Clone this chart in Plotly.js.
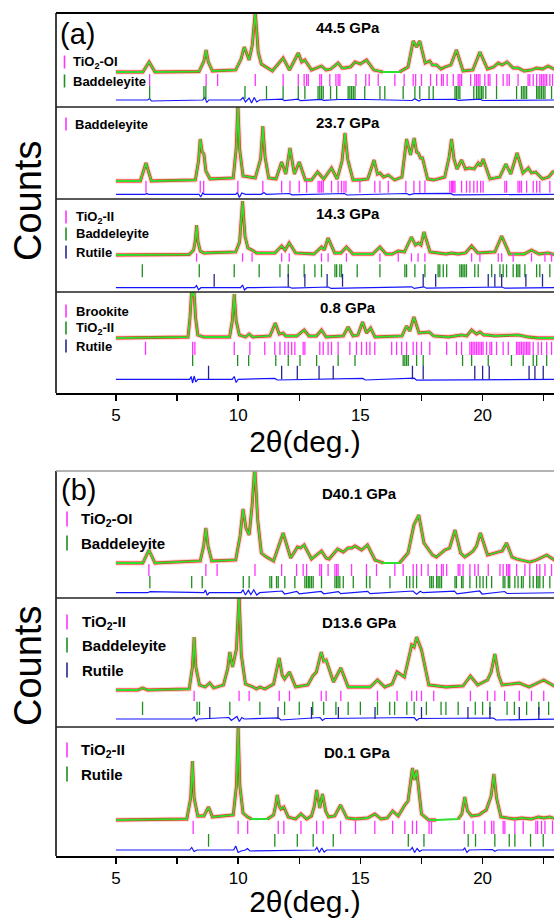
<!DOCTYPE html>
<html><head><meta charset="utf-8">
<script src="https://cdn.plot.ly/plotly-3.0.1.min.js"></script>
<style>html,body{margin:0;padding:0;background:#fff}#chart{width:554px;height:918px}</style>
</head><body><div id="chart"></div>
<script>
// ---------- DATA (2θ in degrees, counts in arbitrary units) ----------
// profiles: [2θ, counts]
// (a) 44.5 GPa
const A1_prof = [[5.0,35],[6.1,35],[6.36,45],[6.6,35],[8.4,35.5],[8.6,46],[8.69,57],[8.78,45],[8.95,36],[9.9,37],[10.12,48],[10.25,60],[10.45,47],[10.58,62],[10.70,96],[10.82,55],[10.95,43],[11.16,40],[11.4,36],[11.84,49],[12.1,37],[12.46,54],[12.6,45],[12.73,47],[13.0,37],[13.41,41],[13.6,37],[13.79,38],[14.09,44],[14.25,39],[14.37,39],[14.6,40],[14.78,45],[15.0,43],[15.25,47],[15.55,37],[15.93,35],[16.6,35],[16.95,40],[17.16,66],[17.3,60],[17.43,66],[17.65,44],[17.84,46],[17.95,42],[18.11,42],[18.3,38],[18.46,40],[18.7,42],[18.93,57],[19.2,36],[19.6,37],[19.89,55],[20.2,38],[20.45,40],[20.64,44],[20.8,42],[21.0,45],[21.25,39],[21.46,39],[21.7,36],[22.0,37],[22.2,39],[22.45,38],[22.68,41],[23.0,37]];
const A1_dx = [5,6.3,6.38,6.45,8.55,8.64,8.72,8.8,10.1,10.2,10.3,10.45,10.55,10.66,10.76,10.88,11.8,11.9,12.45,12.55,13.4,13.5,14.1,15.25,17.12,17.22,17.4,17.5,18.9,19.0,19.9,20.0,23];
const A1_dy = [7,7,8.5,6,7,9.5,4.5,7,7,9.5,5,9,4,9.5,5,7,7.8,6.3,7.8,6.3,7.6,6.6,7.5,7.5,6.5,8.3,6,7.5,7.6,6.6,7.8,6.5,7];
const A1_tOI = [6.38,8.69,9.16,10.70,11.84,12.46,12.70,12.80,12.87,13.34,13.41,13.75,14.00,14.09,14.16,14.82,15.22,15.36,15.73,16.41,16.79,17.16,17.26,17.50,17.87,18.12,18.32,18.39,18.55,18.80,19.00,19.07,19.14,19.51,19.68,19.75,19.82,19.89,20.09,20.23,20.30,20.57,20.84,21.00,21.09,21.45,21.86,21.93,22.07,22.21,22.34,22.41,22.48,22.55,22.62,22.75,22.86];
const A1_tBd = [6.38,8.60,8.68,10.28,11.16,11.84,12.46,12.73,13.27,13.34,13.41,13.48,13.78,14.03,14.50,14.57,14.64,14.71,14.78,15.18,15.80,16.00,16.75,17.23,17.43,17.81,17.98,18.87,18.93,19.00,19.07,19.64,19.75,19.82,19.89,19.96,20.02,20.13,20.57,21.39,21.59,21.66,21.73,21.80,22.21,22.27,22.34,22.41,22.48,22.55,22.82];
// (a) 23.7 GPa
const A2_prof = [[5.0,18],[6.0,18],[6.23,36],[6.45,18],[8.25,19],[8.38,38],[8.45,60],[8.53,47],[8.6,45],[8.68,28],[8.85,20],[9.8,21],[9.92,50],[9.99,95],[10.06,50],[10.2,23],[10.7,21],[10.92,40],[11.01,73],[11.1,42],[11.25,21],[11.55,20],[11.78,37],[11.95,25],[12.12,51],[12.3,25],[12.5,37],[12.75,19],[13.0,19],[13.25,27],[13.5,20],[13.82,31],[14.05,20],[14.25,38],[14.37,66],[14.48,40],[14.7,19],[15.0,19],[15.3,20],[15.56,39],[15.7,25],[15.8,26],[15.95,22],[16.14,24],[16.4,19],[16.7,22],[16.89,60],[17.05,44],[17.2,61],[17.3,47],[17.37,46],[17.46,41],[17.54,41],[17.75,20],[18.0,19],[18.45,22],[18.63,42],[18.73,60],[18.83,40],[18.95,30],[19.14,39],[19.3,30],[19.45,31],[19.65,30],[19.82,36],[19.92,33],[20.02,40],[20.3,20],[20.7,22],[20.95,35],[21.15,25],[21.41,46],[21.65,26],[21.87,31],[22.0,26],[22.17,27],[22.45,20],[22.7,22],[22.87,27],[23.0,28]];
const A2_dx = [5,6.2,6.26,6.32,8.4,8.47,8.55,8.62,9.9,9.97,10.05,10.15,10.3,10.95,11.05,11.15,12.1,12.2,14.35,14.45,16.9,17.0,17.2,18.7,18.8,23];
const A2_dy = [4.7,4.7,5.5,4.7,4.7,2,6,4.7,4.7,6.5,1.5,6,4.7,4.7,6.5,4.7,5.5,4.2,5.5,4,5.5,4.2,5.4,5.6,4.2,4.7];
const A2_tBd = [6.23,8.45,8.59,9.99,11.01,11.78,12.12,12.50,12.80,13.27,13.34,13.41,13.48,13.82,14.09,14.23,14.33,14.41,14.98,15.59,15.80,16.14,16.86,17.19,17.43,17.64,18.66,18.73,18.77,18.82,18.87,19.14,19.34,19.48,19.64,19.78,19.92,20.02,20.91,20.98,21.45,21.52,21.59,21.80,22.07,22.21,22.34,22.75];
// (a) 14.3 GPa
const A3_prof = [[5.0,37],[8.0,37.5],[8.18,42],[8.25,52],[8.3,67],[8.36,50],[8.45,41],[8.6,39],[9.9,40],[10.06,50],[10.18,91],[10.28,56],[10.4,44],[10.57,42],[10.75,39],[11.5,39],[11.78,46],[11.92,42],[12.09,49],[12.35,39],[13.1,38],[13.41,45],[13.52,42],[13.68,54],[13.95,39],[14.2,39],[14.43,45],[14.7,38],[15.5,38],[15.8,45],[16.05,38],[16.3,38],[16.55,41],[16.8,40],[17.09,55],[17.25,47],[17.37,49],[17.48,47],[17.6,60],[17.85,40],[18.5,38],[18.73,39],[19.0,38],[19.3,39],[19.55,46],[19.8,39],[20.5,40],[20.78,56],[21.1,38],[21.7,38],[22.0,42],[22.3,38],[22.68,39],[23.0,37]];
const A3_dx = [5,8.22,8.3,8.38,8.48,10.1,10.18,10.26,10.36,12.1,12.2,13.7,13.8,17.1,17.2,17.6,17.7,20.8,20.9,23];
const A3_dy = [4.3,4.3,6.5,2.3,4.3,4.3,7,2,4.3,5,3.8,5,3.6,5.2,3.6,5.2,3.8,5,3.8,4.3];
const A3_tII = [8.30,10.18,10.57,11.78,12.09,13.41,13.68,14.43,15.80,16.55,17.09,17.36,17.64,19.55,19.89,20.64,20.78,21.25,22.00,22.55,22.82];
const A3_tBd = [6.08,8.41,9.84,10.86,11.71,12.05,12.70,13.14,13.41,13.96,14.03,14.16,14.23,14.87,15.80,16.82,16.89,17.23,17.64,18.18,18.25,18.39,18.53,19.07,19.14,19.20,19.27,19.34,19.68,19.82,20.37,20.71,20.84,20.98,21.25,21.39,21.45,21.52,21.73,22.21,22.34,22.75];
const A3_tRu = [9.02,12.05,12.73,13.64,14.27,17.57,18.08,20.23,20.50,20.78,21.77,22.45];
// (a) 0.8 GPa
const A4_prof = [[5.0,55],[7.95,56],[8.03,75],[8.1,103],[8.15,97],[8.19,103],[8.26,75],[8.35,58],[8.6,56],[9.65,56],[9.76,72],[9.84,99],[9.92,72],[10.05,58],[10.3,56],[10.45,59],[10.6,56],[11.3,57],[11.52,70],[11.68,59],[11.84,60],[11.95,57],[12.05,57],[12.4,57],[12.7,63],[12.9,57],[13.2,57],[13.41,63],[13.6,56],[14.3,57],[14.5,66],[14.7,57],[14.9,58],[15.09,71],[15.25,60],[15.42,65],[15.6,56],[16.7,57],[16.89,67],[17.02,62],[17.19,76],[17.4,60],[17.81,61],[18.0,57],[18.6,56],[19.14,58],[19.35,57],[19.55,63],[19.75,59],[19.89,61],[20.05,58],[20.19,58],[20.5,57],[21.46,58],[21.87,56],[22.28,55],[23.0,55]];
const A4_dx = [5,8.02,8.08,8.14,8.2,8.27,8.35,9.76,9.84,9.92,10.0,11.5,11.6,15.1,15.2,17.2,17.3,23];
const A4_dy = [13.7,13.7,16.5,10,17,11,13.7,13.7,16.5,10.5,13.7,14.6,13,14.6,13,14.8,12.8,13.7];
const A4_tBr = [6.21,8.14,8.23,9.84,10.48,11.09,11.50,11.71,11.91,12.05,12.19,12.32,12.66,12.73,13.34,13.48,13.68,13.82,14.09,14.57,14.84,15.05,15.25,15.39,15.59,16.28,16.48,16.69,16.89,17.16,17.30,17.50,17.84,18.53,18.93,19.14,19.48,19.55,19.61,19.68,19.75,19.82,19.89,19.96,20.02,20.16,20.30,20.37,20.57,20.84,21.05,21.39,21.45,21.52,21.59,21.66,21.73,21.80,21.86,21.93,22.07,22.27,22.41,22.62,22.82];
const A4_tII = [8.14,9.98,10.43,11.54,12.05,12.53,13.21,14.09,14.78,16.75,16.82,16.89,16.96,17.30,17.57,19.18,19.55,20.23,21.18,21.66,22.07,22.21,22.62];
const A4_tRu = [8.79,11.78,12.42,13.31,13.89,17.13,17.57,19.68,20.00,20.27,21.90,22.14,22.48];
// (b) D40.1 GPa
const B1_prof = [[5.0,35],[6.1,35],[6.35,48],[6.6,35],[8.45,37],[8.59,52],[8.68,70],[8.77,52],[8.92,37],[9.9,38],[10.08,62],[10.2,89],[10.32,70],[10.45,63],[10.57,92],[10.68,132],[10.8,78],[10.95,45],[11.16,41],[11.45,37],[11.84,65],[12.15,40],[12.43,51],[12.55,50],[12.7,53],[13.0,39],[13.41,47],[13.6,40],[13.72,39],[14.07,49],[14.3,46],[14.5,50],[14.65,50],[14.78,52],[15.05,48],[15.29,53],[15.6,38],[15.95,35],[16.6,35],[16.95,45],[17.19,73],[17.39,83],[17.6,55],[17.77,49],[17.95,43],[18.11,41],[18.3,45],[18.46,48],[18.65,50],[18.87,68],[19.1,45],[19.27,41],[19.45,44],[19.61,47],[19.75,52],[19.91,65],[20.2,43],[20.45,45],[20.64,46],[20.8,47],[20.98,55],[21.2,41],[21.39,39],[21.93,36],[22.2,38],[22.62,43],[23.0,37]];
const B1_dx = [5,6.3,6.4,8.6,8.66,8.74,8.82,10.12,10.2,10.3,10.42,10.52,10.64,10.76,10.88,11.8,11.9,12.4,12.5,13.4,13.5,14.1,14.2,15.3,15.4,17.15,17.3,17.45,17.55,18.85,18.95,19.88,19.98,20.9,21.0,23];
const B1_dy = [5.3,5.3,6.3,5.3,8,2.8,5.3,5.3,8,3,7.8,3.5,8.2,3,5.3,7,4,6.6,4.2,6.5,4.2,6.4,4.4,6.6,4.4,7,3.8,6.8,5.3,6.8,4.2,7,4,6.5,4.5,5.3];
const B1_tOI = [6.35,8.68,9.14,10.69,11.78,12.39,12.66,12.80,13.34,13.41,13.68,13.96,14.03,14.09,14.64,15.25,15.66,16.41,16.75,17.16,17.30,17.50,17.77,18.12,18.32,18.39,18.53,19.00,19.07,19.20,19.48,19.68,19.82,20.23,20.71,20.84,20.98,21.05,21.11,21.39,21.73,21.93,22.21,22.34,22.55,22.82];
const B1_tBd = [6.39,8.10,8.53,10.21,10.45,11.30,11.37,11.57,11.64,11.91,12.32,12.73,12.80,12.87,12.93,13.00,13.07,13.41,13.96,14.03,14.09,14.16,14.30,14.71,15.25,15.39,16.21,16.89,17.02,17.16,17.30,17.84,17.91,17.98,18.12,18.18,18.25,18.32,18.87,18.93,19.14,19.20,19.48,19.75,19.89,20.02,20.16,20.37,20.84,20.91,21.05,21.11,21.32,21.45,21.59,21.66,21.93,22.07,22.21,22.27,22.34,22.48,22.75];
// (b) D13.6 GPa
const B2_prof = [[5.0,37],[5.9,37],[6.09,39],[6.3,37],[8.0,38],[8.13,60],[8.2,90],[8.27,60],[8.42,42],[8.65,40],[8.84,44],[9.0,39],[9.4,42],[9.57,58],[9.66,75],[9.77,60],[9.93,78],[10.04,132],[10.13,72],[10.3,43],[10.61,40],[10.75,38],[10.89,40],[11.1,38],[11.45,43],[11.6,58],[11.68,69],[11.8,52],[11.9,48],[12.1,55],[12.35,40],[12.85,42],[13.05,51],[13.2,55],[13.4,75],[13.5,66],[13.6,67],[13.9,45],[14.2,59],[14.5,40],[15.4,40],[15.7,47],[16.0,40],[16.3,43],[16.5,55],[16.8,50],[17.1,82],[17.2,80],[17.3,90],[17.5,77],[17.8,42],[18.5,40],[19.2,41],[19.5,51],[19.8,42],[20.2,47],[20.35,55],[20.5,73],[20.65,52],[20.8,42],[21.5,44],[21.9,40],[22.5,47],[23.0,40]];
const B2_dx = [5,8.12,8.2,8.28,8.36,9.62,9.72,9.95,10.05,10.15,10.25,11.65,11.75,13.35,13.45,13.55,17.2,17.3,17.4,20.45,20.55,23];
const B2_dy = [8,8,10,6,8,9.5,6.5,10.5,5.5,9.5,8,9.2,7,9.5,6.5,8.5,9.5,6.5,8.5,9,7,8];
const B2_tII = [8.20,10.04,10.45,11.68,12.10,13.40,13.60,14.20,15.70,16.50,17.10,17.30,17.50,18.00,19.50,20.20,20.50,20.90,21.50,22.00,22.50];
const B2_tBd = [6.09,8.32,8.42,9.66,10.89,11.90,12.50,13.05,13.50,14.00,14.50,15.00,15.70,16.20,16.40,16.90,17.20,17.70,18.30,18.50,19.00,19.70,20.00,20.30,21.00,21.30,21.80,22.30,22.70];
const B2_tRu = [8.84,11.63,13.00,14.10,15.60,17.50,19.40,20.30,21.50,22.30];
// (b) D0.1 GPa
const B3_prof = [[5.0,36],[7.9,37],[8.06,58],[8.13,95],[8.2,58],[8.35,40],[8.6,40],[8.79,49],[8.95,39],[9.8,41],[9.93,70],[10.0,128],[10.07,70],[10.2,43],[10.39,39],[10.55,37],[11.2,37],[11.45,41],[11.53,50],[11.6,61],[11.68,50],[11.75,47],[11.87,49],[12.05,39],[12.35,37],[12.57,42],[12.8,37],[13.0,40],[13.12,50],[13.21,66],[13.34,48],[13.45,62],[13.58,45],[13.7,39],[13.95,40],[14.19,51],[14.45,38],[14.78,37],[15.3,38],[15.59,42],[15.85,37],[16.1,38],[16.32,45],[16.55,40],[16.82,51],[16.95,55],[17.13,88],[17.2,76],[17.3,86],[17.42,55],[17.5,42],[17.8,36],[18.1,36],[19.0,37],[19.15,42],[19.27,59],[19.38,45],[19.55,40],[19.85,41],[20.02,44],[20.15,46],[20.35,60],[20.46,82],[20.57,58],[20.75,39],[21.3,37],[21.59,38],[22.0,37],[22.28,39],[22.5,38],[22.75,39],[23.0,37]];
const B3_dx = [5,8.02,8.1,8.2,8.32,9.82,9.9,10.0,10.12,10.3,10.38,10.48,13.15,13.22,13.32,13.42,13.52,13.62,17.05,17.12,17.22,17.32,17.42,17.52,19.2,19.27,19.36,19.45,20.4,20.5,20.6,23];
const B3_dy = [6,6,8.5,4.5,6,6,10,3.5,5,6,7.5,5,6,8.5,3.5,8,4,6,6,8.5,3.5,7.5,4.5,6,6,8,3.5,6,6.5,4.8,6,6];
const B3_tII = [8.16,10.00,10.39,11.64,11.87,12.57,13.21,13.48,14.19,14.80,15.59,16.32,16.82,17.13,17.30,17.81,17.91,19.25,19.61,20.09,20.37,20.46,20.84,20.91,21.32,21.66,22.18,22.25,22.41,22.55,22.86];
const B3_tRu = [8.79,11.50,12.42,13.07,13.89,16.96,17.60,19.41,19.71,20.50,21.09,21.32,21.96,22.48];

const xTicks = [5,10,15,20];

// ---------- STYLE / LAYOUT ----------
const W = 554, H = 918;
const px = v => v / W, py = v => 1 - v / H;
const MAG = '#ff33ff', GRN = '#1f8f1f', NAV = '#262690';
const FONT = 'Liberation Sans, Arial, Helvetica, sans-serif';

const panels = [
  {top:13,  bot:107, xa:'x',  prof:A1_prof, gaps:[[15.93,16.6]], dx:A1_dx, dy:A1_dy,
   ticks:[[A1_tOI,21,33,MAG],[A1_tBd,8,21,GRN]]},
  {top:107, bot:199, xa:'x',  prof:A2_prof, gaps:[], dx:A2_dx, dy:A2_dy,
   ticks:[[A2_tBd,6.3,18.3,MAG]]},
  {top:199, bot:292, xa:'x',  prof:A3_prof, gaps:[], dx:A3_dx, dy:A3_dy,
   ticks:[[A3_tII,30.3,38.7,MAG],[A3_tBd,14.7,27.7,GRN],[A3_tRu,5.3,18,NAV]]},
  {top:292, bot:393, xa:'x',  prof:A4_prof, gaps:[], dx:A4_dx, dy:A4_dy,
   ticks:[[A4_tBr,38,51.3,MAG],[A4_tII,27,38,GRN],[A4_tRu,13.7,27.3,NAV]]},
  {top:471, bot:598, xa:'x2', prof:B1_prof, gaps:[[15.95,16.6]], dx:B1_dx, dy:B1_dy,
   ticks:[[B1_tOI,22,34,MAG],[B1_tBd,9.7,22,GRN]]},
  {top:598, bot:727, xa:'x2', prof:B2_prof, gaps:[], dx:B2_dx, dy:B2_dy,
   ticks:[[B2_tII,26,36.3,MAG],[B2_tBd,12,25.3,GRN],[B2_tRu,8,20,NAV]]},
  {top:727, bot:856, xa:'x2', prof:B3_prof, gaps:[[10.55,11.2],[18.1,19.0]], dx:B3_dx, dy:B3_dy,
   ticks:[[B3_tII,22,35.3,MAG],[B3_tRu,9.3,22,GRN]]}
];

function withGaps(xs, ys, gaps) {
  const ox = [], oy = [];
  for (let i = 0; i < xs.length; i++) {
    if (i > 0) {
      const a = xs[i-1], b = xs[i];
      if (gaps.some(g => a >= g[0] - 1e-9 && b <= g[1] + 1e-9)) { ox.push(null); oy.push(null); }
    }
    ox.push(xs[i]); oy.push(ys[i]);
  }
  return [ox, oy];
}

const traces = [];
const layout = {
  width: W, height: H, margin: {l:0, r:0, t:0, b:0},
  paper_bgcolor: '#fff', plot_bgcolor: 'rgba(0,0,0,0)',
  showlegend: false, font: {family: FONT, color: '#000'},
  shapes: [], annotations: []
};

panels.forEach((p, i) => {
  const yk = i === 0 ? 'y' : 'y' + (i + 1);
  const ak = i === 0 ? 'yaxis' : 'yaxis' + (i + 1);
  layout[ak] = {domain: [py(p.bot), py(p.top)], range: [0, p.bot - p.top], visible: false, fixedrange: true};
  const xs = p.prof.map(d => d[0]), ys = p.prof.map(d => d[1]);
  const [ox, oy] = withGaps(xs, ys, p.gaps);
  traces.push({x: ox, y: oy, xaxis: p.xa, yaxis: yk, mode: 'lines', connectgaps: false,
    line: {color: 'rgba(255,130,130,0.4)', width: 5}, hoverinfo: 'skip'});
  traces.push({x: ox, y: oy, xaxis: p.xa, yaxis: yk, mode: 'lines', connectgaps: false,
    line: {color: '#ff1a1a', width: 2.8}, hoverinfo: 'skip'});
  traces.push({x: xs, y: ys, xaxis: p.xa, yaxis: yk, mode: 'lines',
    line: {color: '#2ee02e', width: 1.8}, hoverinfo: 'skip'});
  traces.push({x: p.dx, y: p.dy, xaxis: p.xa, yaxis: yk, mode: 'lines',
    line: {color: '#1414ff', width: 1.2}, hoverinfo: 'skip'});
  p.ticks.forEach(([arr, lo, hi, col]) => {
    traces.push({x: arr.flatMap(v => [v, v, null]), y: arr.flatMap(() => [lo, hi, null]),
      xaxis: p.xa, yaxis: yk, mode: 'lines', line: {color: col, width: 1.3}, hoverinfo: 'skip'});
  });
});

const xaxisBase = {
  domain: [px(56), 1], range: [2.55, 22.92], showgrid: false, zeroline: false,
  showline: true, linecolor: '#000', linewidth: 1.5, mirror: false,
  ticks: 'outside', ticklen: 6, tickwidth: 1.5, tickcolor: '#000',
  tickvals: xTicks, ticktext: xTicks.map(String),
  minor: {tickvals: [7.5, 12.5, 17.5, 22.5], ticks: 'outside', ticklen: 6, tickwidth: 1.5, tickcolor: '#000'},
  tickfont: {size: 17, family: FONT, color: '#000'}, automargin: false, fixedrange: true,
  title: {text: '2θ(deg.)', font: {size: 30, family: FONT, color: '#000'}, standoff: 0}
};
layout.xaxis = Object.assign({}, xaxisBase, {anchor: 'y4'});
layout.xaxis2 = Object.assign({}, xaxisBase, {anchor: 'y7'});

// frames
function hline(y, w, c) { layout.shapes.push({type:'line', xref:'paper', yref:'paper', x0:px(56), x1:1, y0:py(y), y1:py(y), line:{color:c, width:w}}); }
function vline(x, y0, y1, w, c) { layout.shapes.push({type:'line', xref:'paper', yref:'paper', x0:px(x), x1:px(x), y0:py(y0), y1:py(y1), line:{color:c, width:w}}); }
vline(56, 13, 393, 1.5, '#000'); hline(13, 2, '#000'); [107, 199, 292].forEach(y => hline(y, 1.6, '#222'));
vline(56, 471, 856, 1.5, '#000'); hline(471, 1.5, '#9a9a9a'); [598, 727].forEach(y => hline(y, 1.6, '#222'));

// texts
function txt(t, x, y, size, opt) {
  layout.annotations.push(Object.assign({text: t, xref:'paper', yref:'paper', x: px(x), y: py(y),
    showarrow: false, xanchor: 'center', yanchor: 'middle', font: {size: size, family: FONT, color: '#000'}}, opt || {}));
}
txt('(a)', 58, 34, 29, {xanchor: 'left'});
txt('(b)', 59, 490, 29, {xanchor: 'left'});
txt('Counts', 28, 201, 38, {textangle: -90});
txt('Counts', 28, 666, 38, {textangle: -90});
[['44.5 GPa',347.5,28],['23.7 GPa',347.5,123],['14.3 GPa',347.5,213],['0.8 GPa',348,307],
 ['D40.1 GPa',359,493],['D13.6 GPa',359,622],['D0.1 GPa',357,752]].forEach(([t,x,y]) => txt('<b>'+t+'</b>', x, y, 15));

const OI = 'TiO<sub>2</sub>-OI';
const II = 'TiO<sub>2</sub>-II';
const legends = [
  [64.5, 71, 13, 13, [[OI, 62, MAG], ['Baddeleyite', 81, GRN]]],
  [66, 73, 13, 13, [['Baddeleyite', 124, MAG]]],
  [66, 74, 13, 13, [[II, 217, MAG], ['Baddeleyite', 234, GRN], ['Rutile', 252, NAV]]],
  [66, 74, 13, 13, [['Brookite', 311, MAG], [II, 328, GRN], ['Rutile', 346, NAV]]],
  [67, 79, 15, 15, [[OI, 519, MAG], ['Baddeleyite', 543, GRN]]],
  [67, 80, 15, 15, [[II, 622, MAG], ['Baddeleyite', 645, GRN], ['Rutile', 670, NAV]]],
  [67, 79, 15, 15, [[II, 750, MAG], ['Rutile', 774, GRN]]]
];
legends.forEach(([bx, tx, fs, bl, items]) => {
  items.forEach(([t, y, c]) => {
    vline(bx, y - bl/2, y + bl/2, 1.6, c);
    txt('<b>' + t + '</b>', tx, y, fs, {xanchor: 'left'});
  });
});

Plotly.newPlot('chart', traces, layout, {staticPlot: true, displayModeBar: false});
</script></body></html>
